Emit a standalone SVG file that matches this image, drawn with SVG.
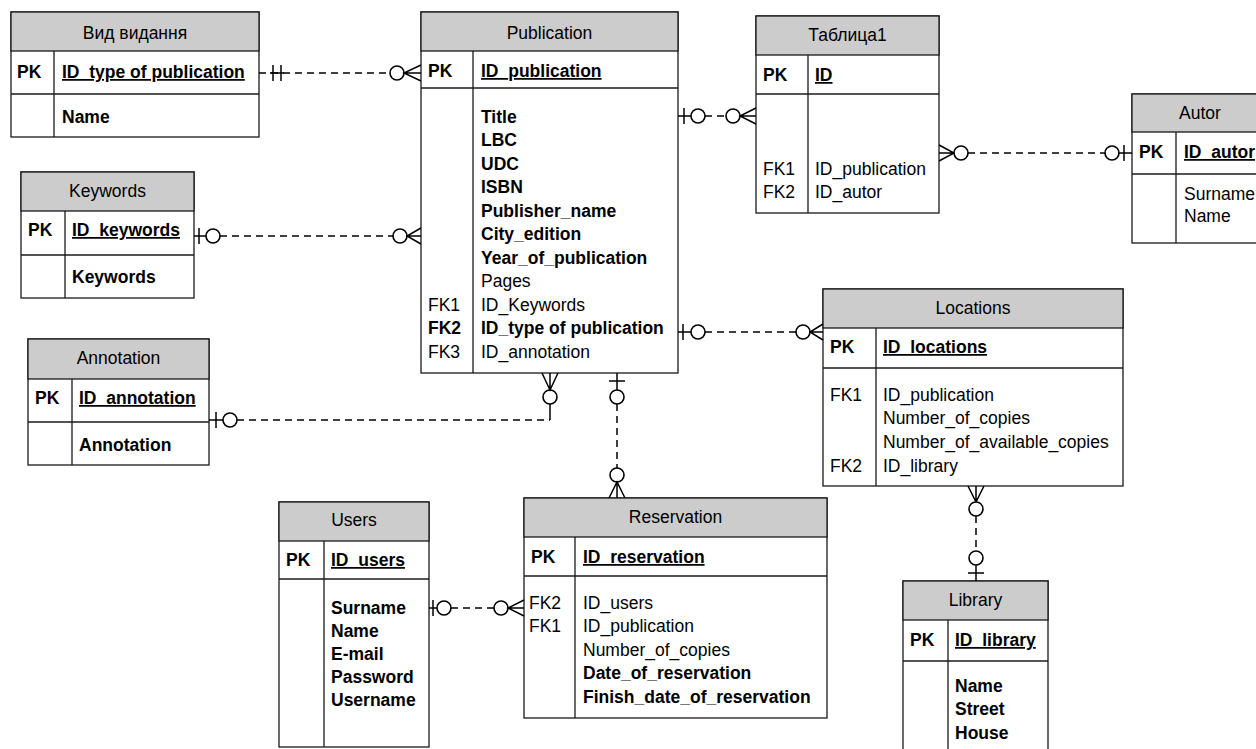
<svg xmlns="http://www.w3.org/2000/svg" width="1256" height="749" viewBox="0 0 1256 749">
<style>
.box{fill:#fff;stroke:#1a1a1a;stroke-width:1.3}
.hdr{fill:#cccccc;stroke:#1a1a1a;stroke-width:1.3}
.sep{stroke:#1a1a1a;stroke-width:1.3}
.t{font-family:"Liberation Sans",Arial,sans-serif;font-size:17.5px;fill:#000}
.b{font-weight:bold}
.c{text-anchor:middle}
.u{text-decoration:underline}
.ln{stroke:#000;stroke-width:1.5;fill:none}
.d{stroke-dasharray:7 5}
.o{fill:#fff;stroke:#000;stroke-width:1.6}
</style>
<rect width="1256" height="749" fill="#fff"/>

<g id="t-vid">
<rect class="box" x="11" y="12" width="248" height="125"/>
<rect class="hdr" x="11" y="12" width="248" height="39"/>
<line class="sep" x1="11" y1="94" x2="259" y2="94"/>
<line class="sep" x1="54" y1="51" x2="54" y2="137"/>
<text class="t c" x="135" y="39">Вид видання</text>
<text class="t b" x="17" y="78">PK</text>
<text class="t b u" x="62" y="78">ID_type of publication</text>
<text class="t b" x="62" y="123">Name</text>
</g>

<g id="t-pub">
<rect class="box" x="421" y="12" width="257" height="361"/>
<rect class="hdr" x="421" y="12" width="257" height="39"/>
<line class="sep" x1="421" y1="88" x2="678" y2="88"/>
<line class="sep" x1="473" y1="51" x2="473" y2="373"/>
<text class="t c" x="549.5" y="39">Publication</text>
<text class="t b" x="428" y="77">PK</text>
<text class="t b u" x="481" y="77">ID_publication</text>
<text class="t b" x="481" y="122.5">Title</text>
<text class="t b" x="481" y="146">LBC</text>
<text class="t b" x="481" y="169.5">UDC</text>
<text class="t b" x="481" y="193">ISBN</text>
<text class="t b" x="481" y="216.5">Publisher_name</text>
<text class="t b" x="481" y="240">City_edition</text>
<text class="t b" x="481" y="263.5">Year_of_publication</text>
<text class="t" x="481" y="287">Pages</text>
<text class="t" x="428" y="310.5">FK1</text>
<text class="t" x="481" y="310.5">ID_Keywords</text>
<text class="t b" x="428" y="334">FK2</text>
<text class="t b" x="481" y="334">ID_type of publication</text>
<text class="t" x="428" y="357.5">FK3</text>
<text class="t" x="481" y="357.5">ID_annotation</text>
</g>

<g id="t-tab1">
<rect class="box" x="756" y="16" width="183" height="197"/>
<rect class="hdr" x="756" y="16" width="183" height="39"/>
<line class="sep" x1="756" y1="94" x2="939" y2="94"/>
<line class="sep" x1="808" y1="55" x2="808" y2="213"/>
<text class="t c" x="847.5" y="41">Таблица1</text>
<text class="t b" x="763" y="81">PK</text>
<text class="t b u" x="815" y="81">ID</text>
<text class="t" x="763" y="175">FK1</text>
<text class="t" x="815" y="175">ID_publication</text>
<text class="t" x="763" y="198">FK2</text>
<text class="t" x="815" y="198">ID_autor</text>
</g>

<g id="t-autor">
<rect class="box" x="1132" y="94" width="136" height="149"/>
<rect class="hdr" x="1132" y="94" width="136" height="38"/>
<line class="sep" x1="1132" y1="174" x2="1268" y2="174"/>
<line class="sep" x1="1176" y1="132" x2="1176" y2="243"/>
<text class="t c" x="1200" y="119">Autor</text>
<text class="t b" x="1139" y="158">PK</text>
<text class="t b u" x="1184" y="158">ID_autor</text>
<text class="t" x="1184" y="200">Surname</text>
<text class="t" x="1184" y="222">Name</text>
</g>

<g id="t-keywords">
<rect class="box" x="21" y="172" width="173" height="126"/>
<rect class="hdr" x="21" y="172" width="173" height="39"/>
<line class="sep" x1="21" y1="255" x2="194" y2="255"/>
<line class="sep" x1="65" y1="211" x2="65" y2="298"/>
<text class="t c" x="107.5" y="197">Keywords</text>
<text class="t b" x="28" y="236">PK</text>
<text class="t b u" x="72" y="236">ID_keywords</text>
<text class="t b" x="72" y="283">Keywords</text>
</g>

<g id="t-annot">
<rect class="box" x="28" y="339" width="181" height="126"/>
<rect class="hdr" x="28" y="339" width="181" height="40"/>
<line class="sep" x1="28" y1="422" x2="209" y2="422"/>
<line class="sep" x1="72" y1="379" x2="72" y2="465"/>
<text class="t c" x="118.5" y="364">Annotation</text>
<text class="t b" x="35" y="404">PK</text>
<text class="t b u" x="79" y="404">ID_annotation</text>
<text class="t b" x="79" y="451">Annotation</text>
</g>

<g id="t-loc">
<rect class="box" x="823" y="289" width="300" height="197"/>
<rect class="hdr" x="823" y="289" width="300" height="39"/>
<line class="sep" x1="823" y1="368" x2="1123" y2="368"/>
<line class="sep" x1="876" y1="328" x2="876" y2="486"/>
<text class="t c" x="973" y="314">Locations</text>
<text class="t b" x="830" y="353">PK</text>
<text class="t b u" x="883" y="353">ID_locations</text>
<text class="t" x="830" y="401">FK1</text>
<text class="t" x="883" y="401">ID_publication</text>
<text class="t" x="883" y="424">Number_of_copies</text>
<text class="t" x="883" y="448">Number_of_available_copies</text>
<text class="t" x="830" y="472">FK2</text>
<text class="t" x="883" y="472">ID_library</text>
</g>

<g id="t-lib">
<rect class="box" x="903" y="581" width="145" height="180"/>
<rect class="hdr" x="903" y="581" width="145" height="39"/>
<line class="sep" x1="903" y1="661" x2="1048" y2="661"/>
<line class="sep" x1="948" y1="620" x2="948" y2="761"/>
<text class="t c" x="975.5" y="606">Library</text>
<text class="t b" x="910" y="646">PK</text>
<text class="t b u" x="955" y="646">ID_library</text>
<text class="t b" x="955" y="692">Name</text>
<text class="t b" x="955" y="715">Street</text>
<text class="t b" x="955" y="739">House</text>
</g>

<g id="t-users">
<rect class="box" x="279" y="502" width="150" height="245"/>
<rect class="hdr" x="279" y="502" width="150" height="39"/>
<line class="sep" x1="279" y1="579" x2="429" y2="579"/>
<line class="sep" x1="324" y1="541" x2="324" y2="747"/>
<text class="t c" x="354" y="526">Users</text>
<text class="t b" x="286" y="566">PK</text>
<text class="t b u" x="331" y="566">ID_users</text>
<text class="t b" x="331" y="614">Surname</text>
<text class="t b" x="331" y="637">Name</text>
<text class="t b" x="331" y="660">E-mail</text>
<text class="t b" x="331" y="683">Password</text>
<text class="t b" x="331" y="706">Username</text>
</g>

<g id="t-res">
<rect class="box" x="524" y="498" width="303" height="220"/>
<rect class="hdr" x="524" y="498" width="303" height="39"/>
<line class="sep" x1="524" y1="576" x2="827" y2="576"/>
<line class="sep" x1="575" y1="537" x2="575" y2="718"/>
<text class="t c" x="675.5" y="523">Reservation</text>
<text class="t b" x="531" y="563">PK</text>
<text class="t b u" x="583" y="563">ID_reservation</text>
<text class="t" x="529" y="609">FK2</text>
<text class="t" x="583" y="609">ID_users</text>
<text class="t" x="529" y="632">FK1</text>
<text class="t" x="583" y="632">ID_publication</text>
<text class="t" x="583" y="656">Number_of_copies</text>
<text class="t b" x="583" y="679">Date_of_reservation</text>
<text class="t b" x="583" y="703">Finish_date_of_reservation</text>
</g>

<g id="connectors">
<!-- Вид видання -> Publication -->
<line class="ln d" x1="259" y1="73" x2="391" y2="73"/>
<line class="ln" x1="270" y1="73" x2="284" y2="73"/>
<line class="ln" x1="273" y1="65" x2="273" y2="81"/>
<line class="ln" x1="281" y1="65" x2="281" y2="81"/>
<circle class="o" cx="397" cy="73" r="7"/>
<path class="ln" d="M421,65 L404,73 L421,81 M404,73 L421,73"/>

<!-- Keywords -> Publication -->
<line class="ln" x1="194" y1="236" x2="206" y2="236"/>
<line class="ln" x1="199" y1="228" x2="199" y2="244"/>
<circle class="o" cx="213" cy="236" r="7"/>
<line class="ln d" x1="220" y1="236" x2="393" y2="236"/>
<circle class="o" cx="400" cy="236" r="7"/>
<path class="ln" d="M421,228 L407,236 L421,244 M407,236 L421,236"/>

<!-- Annotation -> Publication -->
<line class="ln" x1="209" y1="420" x2="223" y2="420"/>
<line class="ln" x1="216" y1="412" x2="216" y2="428"/>
<circle class="o" cx="230" cy="420" r="7"/>
<path class="ln d" d="M237,420 L550,420"/>
<line class="ln" x1="550" y1="420" x2="550" y2="404"/>
<circle class="o" cx="550" cy="397" r="7"/>
<path class="ln" d="M542,373 L550,390 L558,373 M550,373 L550,390"/>

<!-- Publication -> Reservation -->
<line class="ln" x1="617" y1="373" x2="617" y2="390"/>
<line class="ln" x1="609" y1="381" x2="625" y2="381"/>
<circle class="o" cx="617" cy="397" r="7"/>
<line class="ln d" x1="617" y1="404" x2="617" y2="468"/>
<circle class="o" cx="617" cy="475" r="7"/>
<path class="ln" d="M609,498 L617,482 L625,498 M617,482 L617,498"/>

<!-- Publication -> Таблица1 -->
<line class="ln" x1="678" y1="116" x2="691" y2="116"/>
<line class="ln" x1="684" y1="108" x2="684" y2="124"/>
<circle class="o" cx="698" cy="116" r="7"/>
<line class="ln d" x1="705" y1="116" x2="726" y2="116"/>
<circle class="o" cx="733" cy="116" r="7"/>
<path class="ln" d="M756,108 L740,116 L756,124 M740,116 L756,116"/>

<!-- Таблица1 -> Autor -->
<path class="ln" d="M939,145 L954,153 L939,161 M939,153 L954,153"/>
<circle class="o" cx="961" cy="153" r="7"/>
<line class="ln d" x1="968" y1="153" x2="1105" y2="153"/>
<circle class="o" cx="1112" cy="153" r="7"/>
<line class="ln" x1="1119" y1="153" x2="1132" y2="153"/>
<line class="ln" x1="1124" y1="145" x2="1124" y2="161"/>

<!-- Publication -> Locations -->
<line class="ln" x1="678" y1="332" x2="691" y2="332"/>
<line class="ln" x1="683" y1="324" x2="683" y2="340"/>
<circle class="o" cx="698" cy="332" r="7"/>
<line class="ln d" x1="705" y1="332" x2="796" y2="332"/>
<circle class="o" cx="803" cy="332" r="7"/>
<path class="ln" d="M823,324 L810,332 L823,340 M810,332 L823,332"/>

<!-- Users -> Reservation -->
<line class="ln" x1="429" y1="608" x2="437" y2="608"/>
<line class="ln" x1="433" y1="600" x2="433" y2="616"/>
<circle class="o" cx="444" cy="608" r="7"/>
<line class="ln d" x1="451" y1="608" x2="494" y2="608"/>
<circle class="o" cx="501" cy="608" r="7"/>
<path class="ln" d="M524,600 L508,608 L524,616 M508,608 L524,608"/>

<!-- Locations -> Library -->
<path class="ln" d="M968,486 L976,502 L984,486 M976,486 L976,502"/>
<circle class="o" cx="976" cy="509" r="7"/>
<line class="ln d" x1="976" y1="516" x2="976" y2="551"/>
<circle class="o" cx="976" cy="558" r="7"/>
<line class="ln" x1="976" y1="565" x2="976" y2="581"/>
<line class="ln" x1="968" y1="573" x2="984" y2="573"/>
</g>
</svg>
